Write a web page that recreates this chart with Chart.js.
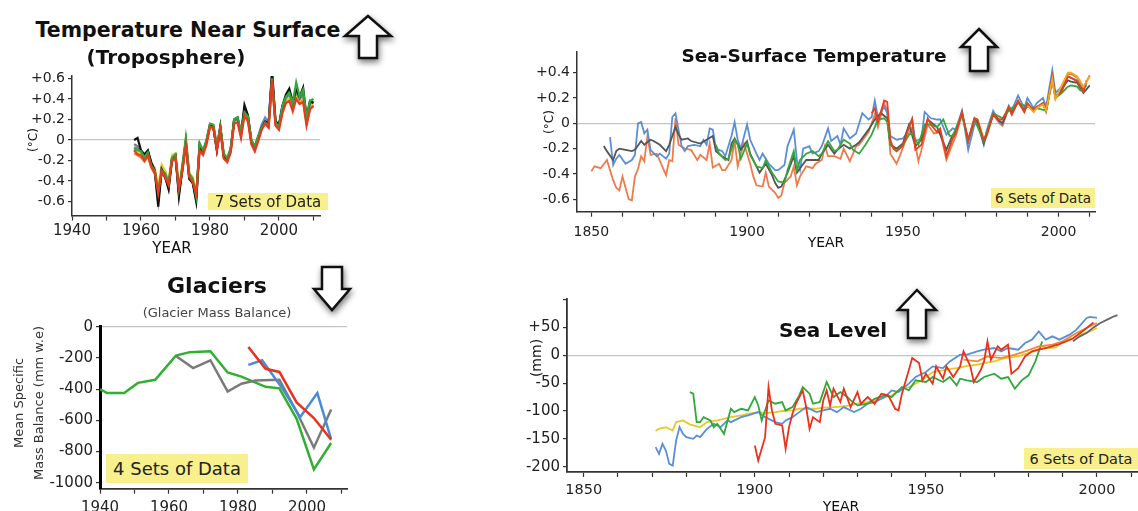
<!DOCTYPE html>
<html>
<head>
<meta charset="utf-8">
<script src="https://cdn.jsdelivr.net/npm/chart.js@4"></script>
<style>
body{margin:0;background:#fff;}
#page{position:relative;width:1138px;height:511px;overflow:hidden;background:#fff;font-family:"DejaVu Sans",sans-serif;color:#111;}
canvas{position:absolute;}
.t{position:absolute;white-space:nowrap;transform:translate(-50%,-50%);}
.b{font-weight:bold;}
.rot{transform:translate(-50%,-50%) rotate(-90deg);}
.tag{position:absolute;background:#f8f08c;color:#222;display:flex;align-items:center;justify-content:center;white-space:nowrap;}
svg{position:absolute;overflow:visible;filter:drop-shadow(1px 3px 3px rgba(0,0,0,.55));}
</style>
</head>
<body>
<div id="page">
  <canvas id="c1" width="345" height="200" style="left:0;top:60px"></canvas>
  <canvas id="c2" width="370" height="201" style="left:0;top:310px"></canvas>
  <canvas id="c3" width="638" height="215" style="left:500px;top:40px"></canvas>
  <canvas id="c4" width="638" height="226" style="left:500px;top:285px"></canvas>

  <div class="t b" style="left:188px;top:30px;font-size:20.5px">Temperature Near Surface</div>
  <div class="t b" style="left:166px;top:57px;font-size:20px">(Troposphere)</div>
  <div class="t rot" style="left:33px;top:140px;font-size:12px">(°C)</div>
  <div class="t" style="left:172px;top:248px;font-size:15px">YEAR</div>
  <div class="tag" style="left:208px;top:193px;width:120px;height:17px;font-size:15px">7 Sets of Data</div>
  <svg style="left:343px;top:14px" width="50" height="46"><path d="M25 2 L48 22 L34 22 L34 44 L16 44 L16 22 L2 22 Z" fill="#fff" stroke="#111" stroke-width="2.5" stroke-linejoin="miter"/></svg>

  <div class="t b" style="left:217px;top:285px;font-size:22px">Glaciers</div>
  <div class="t" style="left:217px;top:312px;font-size:13px;color:#444">(Glacier Mass Balance)</div>
  <div class="t rot" style="left:18px;top:403px;font-size:13px;color:#333">Mean Specific</div>
  <div class="t rot" style="left:38px;top:403px;font-size:13px;color:#333">Mass Balance (mm w.e)</div>
  <div class="tag" style="left:106px;top:454px;width:142px;height:29px;font-size:18px">4 Sets of Data</div>
  <svg style="left:312px;top:265px" width="40" height="47"><path d="M10 2 L30 2 L30 24 L38 24 L20 45 L2 24 L10 24 Z" fill="#fff" stroke="#111" stroke-width="2.5"/></svg>

  <div class="t b" style="left:814px;top:55px;font-size:18.5px">Sea-Surface Temperature</div>
  <div class="t rot" style="left:549px;top:122px;font-size:12px">(°C)</div>
  <div class="t" style="left:826px;top:242px;font-size:14px">YEAR</div>
  <div class="tag" style="left:991px;top:188px;width:104px;height:20px;font-size:13.5px">6 Sets of Data</div>
  <svg style="left:959px;top:27px" width="40" height="46"><path d="M20 2 L38 20 L29 20 L29 44 L11 44 L11 20 L2 20 Z" fill="#fff" stroke="#111" stroke-width="2.5"/></svg>

  <div class="t b" style="left:833px;top:330px;font-size:20px">Sea Level</div>
  <div class="t rot" style="left:536px;top:358px;font-size:14px">(mm)</div>
  <div class="t" style="left:841px;top:506px;font-size:14px">YEAR</div>
  <div class="tag" style="left:1024px;top:448px;width:114px;height:21px;font-size:14.5px">6 Sets of Data</div>
  <svg style="left:896px;top:288px" width="42" height="52"><path d="M21 2 L40 22 L30 22 L30 50 L12 50 L12 22 L2 22 Z" fill="#fff" stroke="#111" stroke-width="2.5"/></svg>
</div>

<script>
// ---------- Temperature near surface (troposphere), yearly from 1958 ----------
const tropStart = 1958;
const tropRed = [-0.10,-0.14,-0.15,-0.20,-0.15,-0.26,-0.32,-0.52,-0.30,-0.36,
  -0.44,-0.20,-0.17,-0.47,-0.30,-0.05,-0.36,-0.41,-0.52,-0.10,
  -0.14,-0.03,0.13,0.12,-0.10,0.10,-0.18,-0.21,-0.12,0.16,
  0.17,0.02,0.24,0.18,-0.04,-0.11,-0.01,0.10,0.16,0.12,
  0.58,0.14,0.10,0.26,0.36,0.38,0.28,0.40,0.35,0.37,
  0.14,0.30,0.33];
const tropGreen = [-0.08,-0.10,-0.11,-0.17,-0.12,-0.25,-0.30,-0.50,-0.30,-0.32,
  -0.42,-0.17,-0.14,-0.48,-0.25,0.02,-0.33,-0.38,-0.55,-0.03,
  -0.10,0.00,0.16,0.15,-0.06,0.13,-0.13,-0.18,-0.08,0.20,
  0.22,0.08,0.27,0.23,0.00,-0.06,0.04,0.12,0.17,0.14,
  0.60,0.17,0.13,0.33,0.42,0.46,0.36,0.56,0.42,0.49,
  0.22,0.38,0.40];
const tropBlack = [0.00,0.02,-0.10,-0.14,-0.10,-0.22,-0.30,-0.65,-0.29,-0.36,
  -0.48,-0.18,-0.15,-0.55,-0.28,-0.02,-0.38,-0.42,-0.60,-0.05,
  -0.12,-0.02,0.15,0.12,-0.10,0.13,-0.16,-0.20,-0.10,0.20,
  0.22,0.06,0.34,0.24,-0.02,-0.06,0.02,0.12,0.18,0.16,
  0.67,0.18,0.15,0.33,0.44,0.50,0.37,0.50,0.42,0.51,
  0.22,0.38,0.36];
const tropGray = [-0.04,-0.06,-0.11,-0.15,-0.11,-0.23,-0.31,-0.60,-0.30,-0.35,
  -0.47,-0.19,-0.16,-0.53,-0.28,-0.02,-0.37,-0.41,-0.58,-0.06,
  -0.12,-0.02,0.14,0.12,-0.09,0.12,-0.16,-0.20,-0.10,0.19,
  0.21,0.06,0.30,0.23,-0.02,-0.07,0.02,0.12,0.18,0.15,
  0.63,0.17,0.14,0.31,0.41,0.45,0.35,0.47,0.40,0.46,
  0.20,0.36,0.37];
const tropBlue = [-0.07,-0.08,-0.12,-0.16,-0.11,-0.23,-0.29,-0.55,-0.28,-0.34,
  -0.44,-0.18,-0.15,-0.50,-0.27,-0.01,-0.35,-0.40,-0.56,-0.05,
  -0.11,0.00,0.15,0.14,-0.07,0.13,-0.15,-0.18,-0.09,0.19,
  0.20,0.07,0.28,0.23,0.00,-0.07,0.04,0.15,0.22,0.17,
  0.64,0.19,0.14,0.33,0.41,0.44,0.38,0.47,0.40,0.45,
  0.20,0.36,0.38];
const tropYellow = [-0.10,-0.12,-0.14,-0.17,-0.13,-0.22,-0.27,-0.45,-0.24,-0.30,
  -0.40,-0.15,-0.13,-0.45,-0.24,0.00,-0.32,-0.36,-0.52,-0.06,
  -0.12,-0.02,0.12,0.12,-0.08,0.12,-0.14,-0.17,-0.09,0.17,
  0.20,0.08,0.25,0.21,0.00,-0.07,0.03,0.12,0.17,0.14,
  0.57,0.18,0.14,0.30,0.38,0.41,0.34,0.45,0.38,0.42,
  0.20,0.34,0.36];
const tropOrange = [-0.13,-0.15,-0.17,-0.21,-0.16,-0.27,-0.33,-0.52,-0.32,-0.37,
  -0.45,-0.21,-0.18,-0.48,-0.30,-0.05,-0.37,-0.42,-0.54,-0.10,
  -0.15,-0.05,0.12,0.11,-0.10,0.10,-0.18,-0.22,-0.12,0.16,
  0.18,0.04,0.25,0.20,-0.03,-0.10,0.00,0.11,0.16,0.13,
  0.56,0.15,0.11,0.28,0.36,0.40,0.31,0.43,0.36,0.40,
  0.16,0.31,0.34];

// ---------- Glacier mass balance ----------
const glGreenYears = [1940,1942,1947,1951,1956,1962,1966,1972,1977,1981,1988,1992,1997,2002,2007];
const glGreenVals  = [-400,-425,-425,-360,-340,-185,-163,-157,-293,-320,-385,-395,-590,-915,-745];
const glGrayYears  = [1962,1967,1972,1977,1981,1985,1992,1997,2002,2007];
const glGrayVals   = [-188,-265,-215,-415,-365,-345,-340,-545,-775,-530];
const glBlueYears  = [1983,1987,1993,1998,2003,2007];
const glBlueVals   = [-245,-215,-400,-580,-425,-720];
const glRedYears   = [1983,1988,1992,1997,2002,2007];
const glRedVals    = [-130,-270,-290,-485,-585,-725];

// ---------- Sea-surface temperature ----------
const sstSalmonYears = [1850,1851,1853,1855,1857,1858,1859,1860,1862,1863,
  1864,1865,1866,1867,1868,1869,1871,1874,1875,1876,
  1877,1878,1880,1882,1884,1885,1887,1888,1889,1891,
  1892,1893,1895,1896,1897,1898,1899,1901,1902,1903,
  1905,1906,1907,1909,1910,1911,1912,1914,1915,1916,
  1917,1919,1921,1922,1924,1925,1926,1928,1930,1931,
  1933,1935,1936,1939,1941,1942,1944,1945,1946,1948,
  1949,1951,1953,1955,1956,1958,1960,1962,1964,1966,
  1967,1969,1971,1973,1974,1976,1977,1979,1981,1982,
  1984,1985,1987,1989,1990,1992,1993,1995,1996,1998,
  1999,2001,2003,2004,2006,2007,2008,2010];
const sstSalmonVals = [-0.38,-0.34,-0.355,-0.29,-0.45,-0.51,-0.53,-0.42,-0.60,-0.61,
  -0.42,-0.36,-0.26,-0.30,-0.10,-0.25,-0.24,-0.41,-0.29,-0.30,
  0.04,-0.17,-0.20,-0.21,-0.29,-0.25,-0.29,-0.16,-0.35,-0.32,
  -0.37,-0.37,-0.29,-0.14,-0.34,-0.24,-0.16,-0.32,-0.42,-0.49,
  -0.50,-0.39,-0.50,-0.55,-0.59,-0.57,-0.47,-0.42,-0.34,-0.49,
  -0.42,-0.34,-0.355,-0.32,-0.29,-0.18,-0.26,-0.26,-0.28,-0.20,
  -0.30,-0.18,-0.17,-0.07,0.07,-0.03,0.16,0.10,-0.24,-0.32,
  -0.26,-0.13,-0.03,-0.30,-0.21,-0.01,-0.08,-0.07,-0.29,-0.16,
  -0.10,0.07,-0.12,0.04,0.00,-0.14,-0.10,0.07,0.00,-0.02,
  0.12,0.07,0.17,0.09,0.15,0.09,0.13,0.15,0.09,0.34,
  0.20,0.28,0.39,0.39,0.36,0.32,0.28,0.38];
const sstBlueYears = [1856,1857,1858,1859,1861,1863,1864,1865,1866,1867,
  1868,1869,1871,1872,1874,1875,1876,1877,1879,1880,
  1881,1883,1885,1886,1887,1888,1889,1890,1892,1893,
  1895,1896,1897,1898,1900,1901,1903,1904,1905,1907,
  1909,1910,1912,1913,1915,1916,1917,1918,1920,1921,
  1923,1924,1926,1927,1929,1930,1931,1933,1934,1935,
  1937,1939,1940,1941,1942,1944,1945,1946,1948,1950,
  1951,1953,1954,1956,1957,1959,1961,1962,1964,1966,
  1967,1969,1971,1973,1974,1976,1977,1979,1981,1982,
  1984,1985,1987,1989,1990,1992,1993,1995,1996,1998,
  1999,2001,2003,2004,2006,2007,2008,2009];
const sstBlueVals = [-0.11,-0.33,-0.28,-0.25,-0.32,-0.29,-0.25,0.00,0.01,-0.08,
  -0.05,-0.21,-0.26,-0.24,-0.28,-0.24,0.05,0.08,-0.18,-0.22,
  -0.18,-0.17,-0.18,-0.13,-0.17,-0.04,-0.05,-0.20,-0.22,-0.26,
  -0.10,0.01,-0.13,-0.20,-0.01,-0.13,-0.24,-0.29,-0.24,-0.32,
  -0.37,-0.37,-0.33,-0.18,-0.05,-0.29,-0.37,-0.20,-0.18,-0.24,
  -0.22,-0.18,-0.04,-0.14,-0.10,-0.17,-0.04,-0.12,-0.10,-0.08,
  0.08,0.03,0.05,0.18,0.05,0.13,0.08,-0.10,-0.13,-0.12,
  -0.09,0.04,-0.14,-0.12,0.09,0.04,0.03,0.03,-0.09,-0.04,
  -0.05,0.10,-0.21,-0.01,0.00,-0.17,-0.05,0.10,0.01,-0.01,
  0.14,0.10,0.22,0.12,0.20,0.12,0.16,0.20,0.13,0.42,
  0.24,0.29,0.37,0.36,0.34,0.30,0.26,0.32];
const sstGrayYears = [1854,1855,1857,1858,1859,1861,1863,1864,1866,1867,
  1869,1870,1872,1874,1875,1877,1878,1879,1881,1882,
  1885,1887,1889,1890,1892,1894,1895,1896,1898,1900,
  1901,1903,1904,1906,1908,1909,1910,1911,1913,1915,
  1916,1917,1919,1921,1923,1924,1926,1928,1929,1931,
  1933,1935,1936,1939,1941,1943,1945,1946,1948,1950,
  1952,1954,1956,1958,1961,1964,1966,1967,1969,1971,
  1973,1974,1976,1977,1979,1981,1982,1984,1985,1987,
  1989,1990,1992,1993,1995,1996,1998,1999,2001,2003,
  2004,2006,2007,2008,2010];
const sstGrayVals = [-0.18,-0.22,-0.29,-0.22,-0.20,-0.21,-0.22,-0.21,-0.14,-0.17,
  -0.13,-0.14,-0.17,-0.22,-0.17,-0.03,-0.09,-0.13,-0.12,-0.14,
  -0.16,-0.13,-0.10,-0.22,-0.26,-0.29,-0.16,-0.12,-0.21,-0.14,
  -0.24,-0.34,-0.39,-0.32,-0.41,-0.47,-0.51,-0.50,-0.39,-0.26,
  -0.39,-0.355,-0.29,-0.29,-0.29,-0.24,-0.17,-0.24,-0.21,-0.17,
  -0.20,-0.17,-0.15,-0.05,0.03,0.08,0.04,-0.17,-0.20,-0.16,
  -0.01,-0.18,-0.13,0.03,-0.03,-0.21,-0.09,-0.07,0.08,-0.14,
  0.03,0.01,-0.16,-0.08,0.07,0.02,0.00,0.12,0.08,0.17,
  0.10,0.15,0.10,0.12,0.16,0.10,0.36,0.21,0.27,0.34,
  0.33,0.32,0.28,0.24,0.30];
const sstGreenYears = [1890,1891,1893,1894,1896,1897,1898,1900,1901,1903,
  1905,1906,1908,1910,1912,1913,1915,1916,1917,1919,
  1921,1923,1924,1926,1928,1929,1931,1933,1934,1936,
  1938,1940,1942,1944,1945,1946,1948,1950,1952,1953,
  1955,1957,1959,1961,1963,1965,1966,1969,1971,1973,
  1976,1979,1982,1984,1987,1990,1993,1996,1998,1999,
  2001,2003,2004,2006,2007,2009];
const sstGreenVals = [-0.17,-0.24,-0.29,-0.28,-0.13,-0.17,-0.28,-0.16,-0.25,-0.34,
  -0.355,-0.29,-0.39,-0.46,-0.47,-0.37,-0.22,-0.37,-0.29,-0.24,
  -0.22,-0.26,-0.24,-0.14,-0.22,-0.21,-0.13,-0.16,-0.21,-0.24,
  -0.17,-0.09,0.03,0.04,0.01,-0.17,-0.22,-0.17,-0.09,-0.08,
  -0.17,-0.01,-0.01,-0.03,0.03,-0.10,-0.10,0.07,-0.14,0.03,
  -0.14,0.08,0.04,0.10,0.16,0.13,0.12,0.10,0.34,0.20,
  0.24,0.29,0.30,0.29,0.26,0.30];
const sstRedYears = [1940,1941,1942,1944,1945,1946,1947,1948,1950,1952,
  1953,1954,1956,1958,1959,1961,1962,1964,1966,1967,
  1969,1971,1973,1974,1976,1977,1979,1981,1982,1984,
  1985,1987,1989,1990,1992,1993,1995,1996,1998,1999,
  2001,2003,2004,2006,2007,2008,2009];
const sstRedVals = [0.08,0.12,0.01,0.18,0.17,-0.13,-0.20,-0.22,-0.18,-0.03,
  0.03,-0.21,-0.17,0.04,-0.01,-0.07,-0.04,-0.26,-0.12,-0.08,
  0.09,-0.14,0.04,0.03,-0.13,-0.08,0.07,0.03,0.03,0.13,
  0.07,0.18,0.09,0.16,0.10,0.13,0.16,0.10,0.37,0.21,
  0.25,0.37,0.36,0.33,0.29,0.25,0.34];
const sstAmberYears = [1990,1992,1993,1995,1996,1998,1999,2001,2003,2004,2006,2007,2008,2010];
const sstAmberVals  = [0.14,0.09,0.12,0.15,0.10,0.35,0.19,0.30,0.40,0.40,0.37,0.33,0.29,0.37];

// ---------- Sea level ----------
const slYellowYears = [1871,1872,1874,1876,1877,1879,1881,1884,1886,1889,
  1891,1893,1896,1898,1901,1903,1906,1908,1911,1913,
  1916,1918,1920,1923,1925,1928,1930,1933,1935,1938,
  1940,1942,1945,1947,1950,1952,1955,1957,1960,1962,
  1965,1967,1970,1972,1974,1977,1979,1982,1984,1986,
  1988,1990,1993,1995,1998,2000];
const slYellowVals = [-136,-132,-129,-135,-120,-117,-124,-129,-120,-117,
  -114,-111,-108,-105,-102,-104,-102,-100,-99,-96,
  -96,-96,-94,-93,-92,-90,-87,-84,-80,-75,
  -72,-63,-57,-51,-39,-30,-27,-25,-22,-19,
  -17,-14,-11,-7,-4,-2,2,8,16,13,
  14,25,31,37,43,49];
const slBlueYears = [1871,1872,1873,1874,1875,1876,1877,1878,1879,1880,
  1882,1883,1884,1886,1888,1890,1892,1893,1896,1898,
  1901,1903,1906,1908,1909,1911,1913,1915,1918,1920,
  1922,1924,1926,1929,1931,1933,1935,1938,1940,1942,
  1945,1947,1950,1952,1955,1957,1960,1962,1965,1967,
  1970,1972,1974,1977,1979,1981,1983,1985,1987,1989,
  1992,1994,1997,1998,2000];
const slBlueVals = [-165,-177,-159,-171,-195,-198,-153,-129,-141,-147,
  -150,-144,-147,-132,-123,-129,-117,-120,-111,-108,
  -102,-111,-120,-123,-117,-111,-102,-93,-102,-99,
  -96,-102,-93,-102,-96,-87,-84,-75,-63,-66,
  -51,-39,-30,-20,-23,-11,1,1,7,10,
  13,7,13,10,22,28,43,28,34,28,
  37,46,67,69,67];
const slGreenYears = [1881,1882,1883,1884,1885,1887,1888,1889,1891,1893,
  1894,1896,1898,1900,1901,1902,1904,1906,1908,1909,
  1911,1913,1914,1916,1917,1919,1921,1923,1925,1927,
  1928,1930,1933,1935,1938,1940,1943,1945,1947,1950,
  1952,1955,1957,1959,1960,1962,1965,1967,1970,1972,
  1974,1976,1978,1980,1982,1984];
const slGreenVals = [-66,-69,-120,-120,-111,-117,-129,-123,-141,-96,
  -102,-96,-99,-75,-90,-117,-81,-87,-84,-99,
  -93,-72,-57,-69,-87,-84,-48,-75,-66,-75,
  -81,-90,-87,-78,-72,-75,-57,-63,-45,-48,
  -39,-48,-39,-54,-42,-45,-48,-39,-33,-42,
  -39,-60,-45,-36,-11,25];
const slRedYears = [1900,1901,1903,1904,1905,1906,1908,1909,1910,1911,
  1912,1914,1915,1916,1917,1919,1920,1921,1922,1923,
  1925,1926,1928,1930,1931,1933,1935,1937,1939,1941,
  1942,1943,1945,1946,1948,1949,1950,1952,1953,1955,
  1956,1958,1960,1961,1963,1964,1966,1967,1968,1969,
  1971,1972,1974,1975,1977,1979,1981,1983,1985,1989,
  1993,1997,1999];
const slRedVals = [-162,-189,-147,-57,-99,-123,-126,-168,-129,-105,
  -87,-63,-93,-132,-111,-120,-81,-63,-90,-60,
  -84,-60,-93,-66,-87,-75,-87,-69,-72,-96,
  -99,-69,-27,-5,-14,-45,-33,-51,-20,-42,
  -20,-39,-20,7,-20,-48,-27,-11,25,-8,
  16,10,19,-33,-23,-2,7,10,13,20,
  30,49,59];
const slOrangeYears = [1961,1965,1968,1972,1976,1979,1983,1987,1990,1994,1998,2000];
const slOrangeVals  = [-8,-11,-2,-5,1,7,16,19,25,40,52,58];
const slGrayYears   = [1993,1995,1997,1999,2001,2003,2005,2006];
const slGrayVals    = [25,34,40,50,58,64,70,72];

// ---------- axis ticks ----------
const ticksDecadesShort = [1940,1950,1960,1970,1980,1990,2000,2010];
const labelsShort = [1940,1960,1980,2000];
const ticksDecadesLong = [1850,1860,1870,1880,1890,1900,1910,1920,1930,1940,1950,1960,1970,1980,1990,2000,2010];
const labelsLong = [1850,1900,1950,2000];
const ticksTemp = [-0.6,-0.4,-0.2,0,0.2,0.4,0.6];
const ticksSst = [-0.6,-0.4,-0.2,0,0.2,0.4];
const ticksGlacier = [-1000,-800,-600,-400,-200,0];
const ticksSea = [-200,-150,-100,-50,0,50,100];

function pts(xs, ys){ return xs.map((x, i) => ({x: x, y: ys[i]})); }
function yearly(start, ys){ return ys.map((y, i) => ({x: start + i, y: y})); }
function line(color, data, w){
  return {data: data, borderColor: color, backgroundColor: color, borderWidth: w, pointRadius: 0, tension: 0, fill: false};
}
function signed(digits){
  return v => v === 0 ? '0' : (v > 0 ? '+' : '') + v.toFixed(digits);
}

const FONT = '"DejaVu Sans", sans-serif';

function panel(id, datasets, o){
  return new Chart(document.getElementById(id), {
    type: 'line',
    data: {datasets: datasets},
    options: {
      responsive: false,
      animation: false,
      events: [],
      layout: {padding: {top: o.top, right: o.right, left: 0, bottom: 0}},
      plugins: {legend: {display: false}, tooltip: {enabled: false}},
      scales: {
        x: {
          type: 'linear', min: o.x0, max: o.x1,
          afterBuildTicks: s => { s.ticks = o.xt.map(v => ({value: v})); },
          afterFit: s => { s.height = o.xh; },
          ticks: {autoSkip: false, maxRotation: 0, padding: o.xpad, color: '#222',
                  font: {family: FONT, size: o.xfs},
                  callback: v => o.xl.includes(v) ? String(v) : ''},
          grid: {drawOnChartArea: false, tickLength: 5, tickColor: '#333', tickWidth: 1.2},
          border: {color: '#333', width: o.xb}
        },
        y: {
          min: o.y0, max: o.y1,
          afterBuildTicks: s => { s.ticks = o.yt.map(v => ({value: v})); },
          afterFit: s => { s.width = o.yw; },
          ticks: {autoSkip: false, padding: 3, color: '#222',
                  font: {family: FONT, size: o.yfs},
                  callback: o.fmt},
          grid: {color: c => (c.tick && c.tick.value === 0) ? '#c4c4c4' : 'rgba(0,0,0,0)',
                 lineWidth: 1.2, tickLength: 4, tickColor: '#333'},
          border: {color: o.ybc || '#333', width: o.yb}
        }
      }
    }
  });
}

// troposphere
panel('c1', [
  line('#e83a1e', yearly(tropStart, tropRed), 2.2),
  line('#2eaa3a', yearly(tropStart, tropGreen), 2.2),
  line('#111111', yearly(tropStart, tropBlack), 2.2),
  line('#7a7a7a', yearly(tropStart, tropGray), 2.2),
  line('#5b8fd6', yearly(tropStart, tropBlue), 2.2),
  line('#e8cf20', yearly(tropStart, tropYellow), 2.2),
  line('#f08040', yearly(tropStart, tropOrange), 2.2)
], {top: 16, right: 25, yw: 72, xh: 44.5, x0: 1940, x1: 2011.9, y0: -0.735, y1: 0.623,
    xt: ticksDecadesShort, xl: labelsShort, yt: ticksTemp, fmt: signed(1),
    xfs: 15, yfs: 14, xpad: 2, xb: 1.5, yb: 1.5});

// glaciers
panel('c2', [
  line('#e8321c', pts(glRedYears, glRedVals), 2.5),
  line('#4a8ad8', pts(glBlueYears, glBlueVals), 2.5),
  line('#7a7a7a', pts(glGrayYears, glGrayVals), 2.5),
  line('#2fb02f', pts(glGreenYears, glGreenVals), 2.5)
], {top: 16.7, right: 23, yw: 100, xh: 22.3, x0: 1940, x1: 2011.6, y0: -1038, y1: 0,
    xt: ticksDecadesShort, xl: labelsShort, yt: ticksGlacier, fmt: v => String(v),
    xfs: 15, yfs: 15, xpad: 5, xb: 1.8, yb: 3, ybc: '#000'});

// sea-surface temperature
panel('c3', [
  line('#f5a81e', pts(sstAmberYears, sstAmberVals), 1.8),
  line('#e8401a', pts(sstRedYears, sstRedVals), 1.8),
  line('#33a83a', pts(sstGreenYears, sstGreenVals), 1.8),
  line('#555555', pts(sstGrayYears, sstGrayVals), 1.8),
  line('#5a8fd8', pts(sstBlueYears, sstBlueVals), 1.8),
  line('#f07a4a', pts(sstSalmonYears, sstSalmonVals), 1.8)
], {top: 12, right: 43, yw: 77, xh: 43.3, x0: 1845.4, x1: 2011.7, y0: -0.699, y1: 0.564,
    xt: ticksDecadesLong, xl: labelsLong, yt: ticksSst, fmt: signed(1),
    xfs: 14, yfs: 14, xpad: 7, xb: 1.5, yb: 1.5});

// sea level
panel('c4', [
  line('#666666', pts(slGrayYears, slGrayVals), 1.8),
  line('#e8321c', pts(slRedYears, slRedVals), 1.8),
  line('#f08a3a', pts(slOrangeYears, slOrangeVals), 1.8),
  line('#2fa83a', pts(slGreenYears, slGreenVals), 1.8),
  line('#5a8fd8', pts(slBlueYears, slBlueVals), 1.8),
  line('#e8c828', pts(slYellowYears, slYellowVals), 1.8)
], {top: 14, right: 0, yw: 67, xh: 39, x0: 1845.1, x1: 2012, y0: -209.5, y1: 101,
    xt: ticksDecadesLong, xl: labelsLong, yt: ticksSea, fmt: v => v === 100 ? '' : (v > 0 ? '+' + v : String(v)),
    xfs: 14.5, yfs: 15, xpad: 5, xb: 1.8, yb: 1.8});
</script>
</body>
</html>
